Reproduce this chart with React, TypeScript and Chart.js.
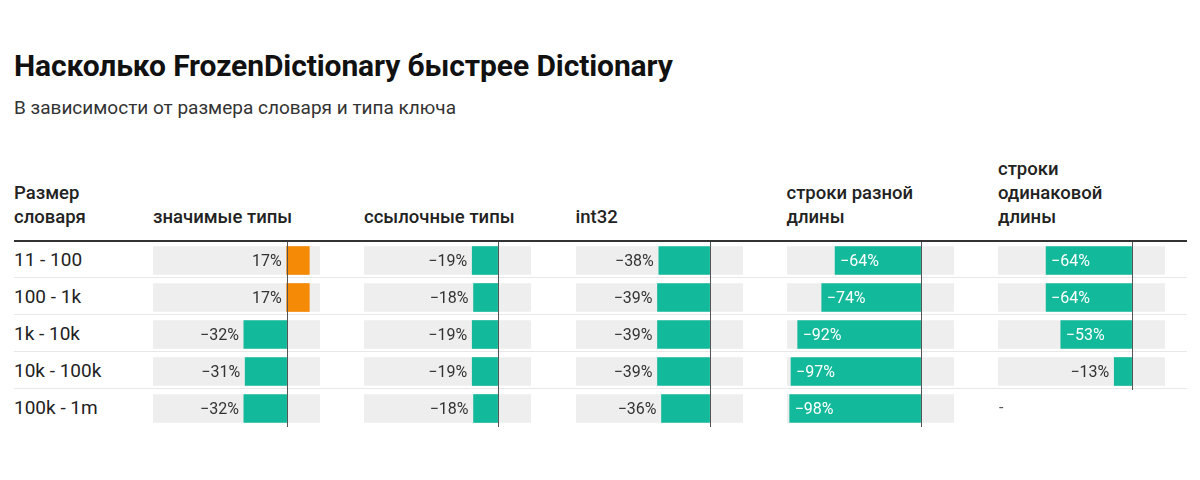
import React, { useEffect, useRef } from "react";
import { Chart, registerables } from "chart.js";

Chart.register(...registerables);

const rowLabels = ["11 - 100", "100 - 1k", "1k - 10k", "10k - 100k", "100k - 1m"];
const columnTitles = [
  ["значимые типы"],
  ["ссылочные типы"],
  ["int32"],
  ["строки разной", "длины"],
  ["строки", "одинаковой", "длины"],
];
const valueTypes = [17, 17, -32, -31, -32];
const refTypes = [-19, -18, -19, -19, -18];
const int32Keys = [-38, -39, -39, -39, -36];
const stringsVarLen = [-64, -74, -92, -97, -98];
const stringsSameLen: (number | null)[] = [-64, -64, -53, -13, null];
const columnsData = [valueTypes, refTypes, int32Keys, stringsVarLen, stringsSameLen];
const scaleMin = -100;
const scaleMax = 25;

const TEAL = "#13b99b";
const ORANGE = "#f58a07";
const GRAY = "#eeeeee";
const FONT = "Roboto, 'Noto Sans', sans-serif";

const colLeft = [153, 364, 575.5, 786.5, 998];
const colWidth = 167;
const tableTop = 241;
const rowH = 37;

function fmt(v: number) {
  return (v < 0 ? "\u2212" : "") + Math.abs(v) + "%";
}

const labelPlugin = {
  id: "cellLabels",
  afterDatasetsDraw(chart: any) {
    const { ctx, scales } = chart;
    const xs = scales.x;
    const ys = scales.y;
    const data: (number | null)[] = chart.data.datasets[1].data;
    const zero = xs.getPixelForValue(0);
    let lastIdx = -1;
    data.forEach((v, i) => {
      if (v !== null && v !== undefined) lastIdx = i;
    });
    ctx.save();
    ctx.strokeStyle = "#555555";
    ctx.lineWidth = 1;
    ctx.beginPath();
    const bottom = ys.getPixelForValue(lastIdx) + rowH / 2;
    ctx.moveTo(Math.round(zero) + 0.5, chart.chartArea.top);
    ctx.lineTo(Math.round(zero) + 0.5, bottom);
    ctx.stroke();
    ctx.font = "16px " + FONT;
    ctx.textBaseline = "middle";
    data.forEach((v, i) => {
      const y = ys.getPixelForValue(i) + 1;
      if (v === null || v === undefined) {
        ctx.fillStyle = "#555555";
        ctx.textAlign = "left";
        ctx.fillText("-", chart.chartArea.left + 1, y - 1);
        return;
      }
      const txt = fmt(v);
      const tw = ctx.measureText(txt).width;
      const end = xs.getPixelForValue(v);
      const barW = Math.abs(end - zero);
      if (v < 0 && barW > tw + 30) {
        ctx.fillStyle = "#ffffff";
        ctx.textAlign = "left";
        ctx.fillText(txt, end + 5, y);
      } else {
        ctx.fillStyle = "#333333";
        ctx.textAlign = "right";
        ctx.fillText(txt, Math.min(end, zero) - 5, y);
      }
    });
    ctx.restore();
  },
};

function ColumnChart({ values, left }: { values: (number | null)[]; left: number }) {
  const ref = useRef<HTMLCanvasElement>(null);
  useEffect(() => {
    if (!ref.current) return;
    const chart = new Chart(ref.current, {
      type: "bar",
      data: {
        labels: rowLabels,
        datasets: [
          {
            data: values.map((v) => (v === null ? null : [scaleMin, scaleMax])) as any,
            backgroundColor: GRAY,
            barThickness: 28,
            grouped: false,
            order: 2,
          },
          {
            data: values as any,
            backgroundColor: values.map((v) => (v !== null && v > 0 ? ORANGE : TEAL)),
            barThickness: 28,
            grouped: false,
            order: 1,
          },
        ],
      },
      options: {
        indexAxis: "y",
        animation: false,
        responsive: false,
        maintainAspectRatio: false,
        layout: { padding: { top: 1 } },
        plugins: { legend: { display: false }, tooltip: { enabled: false } },
        scales: {
          x: { min: scaleMin, max: scaleMax, display: false },
          y: { display: false, offset: true },
        },
      },
      plugins: [labelPlugin],
    });
    return () => chart.destroy();
  }, []);
  return (
    <canvas
      ref={ref}
      width={colWidth}
      height={rowH * 5 + 1}
      style={{ position: "absolute", left, top: tableTop, width: colWidth, height: rowH * 5 + 1 }}
    />
  );
}

export default function App() {
  const headerStyle: React.CSSProperties = {
    position: "absolute",
    bottom: 480 - 229,
    fontFamily: FONT,
    fontWeight: 500,
    fontSize: 18.5,
    lineHeight: "24px",
    color: "#222",
  };
  return (
    <div
      style={{
        position: "absolute",
        left: 0,
        top: 0,
        width: 1200,
        height: 480,
        background: "#fff",
        fontFamily: FONT,
        overflow: "hidden",
      }}
    >
      <div
        style={{
          position: "absolute",
          left: 14,
          top: 48,
          fontSize: 30,
          fontWeight: 700,
          lineHeight: "36px",
          color: "#111",
          letterSpacing: "-0.1px",
          whiteSpace: "nowrap",
        }}
      >
        Насколько FrozenDictionary быстрее Dictionary
      </div>
      <div
        style={{
          position: "absolute",
          left: 14,
          top: 95,
          fontSize: 19,
          lineHeight: "26px",
          color: "#333",
          whiteSpace: "nowrap",
        }}
      >
        В зависимости от размера словаря и типа ключа
      </div>
      <div style={{ ...headerStyle, left: 14 }}>
        Размер
        <br />
        словаря
      </div>
      {columnTitles.map((lines, i) => (
        <div key={i} style={{ ...headerStyle, left: colLeft[i] }}>
          {lines.map((l, j) => (
            <div key={j} style={{ whiteSpace: "nowrap" }}>
              {l}
            </div>
          ))}
        </div>
      ))}
      <div
        style={{ position: "absolute", left: 14, top: 239.5, width: 1173, height: 2.5, background: "#333" }}
      />
      {rowLabels.slice(0, 4).map((_, i) => (
        <div
          key={i}
          style={{
            position: "absolute",
            left: 14,
            top: tableTop + rowH * (i + 1) - 1,
            width: 1173,
            height: 1,
            background: "#e8e8e8",
          }}
        />
      ))}
      {rowLabels.map((l, i) => (
        <div
          key={i}
          style={{
            position: "absolute",
            left: 14,
            top: tableTop + rowH * i,
            height: rowH,
            lineHeight: rowH + "px",
            fontSize: 19,
            color: "#222",
            whiteSpace: "nowrap",
          }}
        >
          {l}
        </div>
      ))}
      {columnsData.map((vals, i) => (
        <ColumnChart key={i} values={vals} left={colLeft[i]} />
      ))}
    </div>
  );
}
